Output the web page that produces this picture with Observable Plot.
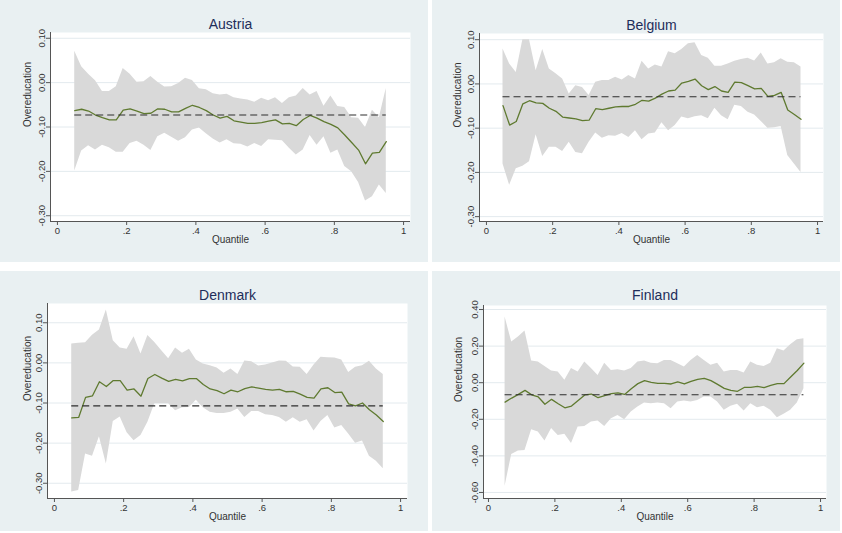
<!DOCTYPE html>
<html>
<head>
<meta charset="utf-8">
<script src="https://cdn.jsdelivr.net/npm/d3@7"></script>
<script src="https://cdn.jsdelivr.net/npm/@observablehq/plot@0.6"></script>
<style>
  body { margin: 0; background: #fff; font-family: "Liberation Sans", Arial, sans-serif; }
  #chart { position: relative; width: 842px; height: 533px; overflow: hidden; background: #fff; }
  .panel { position: absolute; background: #e9f0f2; }
  .panel svg { display: block; }
</style>
</head>
<body>
<div id="chart"></div>
<script>
// Quantiles at which the overeducation effect is estimated
const quantiles = [0.05,0.07,0.09,0.11,0.13,0.15,0.17,0.19,0.21,0.23,0.25,0.27,0.29,0.31,0.33,0.35,0.37,0.39,0.41,0.43,0.45,0.47,0.49,0.51,0.53,0.55,0.57,0.59,0.61,0.63,0.65,0.67,0.69,0.71,0.73,0.75,0.77,0.79,0.81,0.83,0.85,0.87,0.89,0.91,0.93,0.95];

const xTicks = [0, 0.2, 0.4, 0.6, 0.8, 1];

// Austria
const austriaEst = [-0.063,-0.060,-0.064,-0.073,-0.079,-0.084,-0.084,-0.062,-0.059,-0.064,
  -0.070,-0.069,-0.059,-0.060,-0.066,-0.066,-0.058,-0.051,-0.056,-0.063,
  -0.073,-0.080,-0.076,-0.086,-0.089,-0.092,-0.092,-0.090,-0.087,-0.084,
  -0.093,-0.092,-0.097,-0.083,-0.074,-0.080,-0.088,-0.094,-0.102,-0.118,
  -0.135,-0.152,-0.183,-0.159,-0.157,-0.133];
const austriaHi = [0.071,0.036,0.019,0.004,-0.020,-0.020,-0.009,0.032,0.019,0.001,
  0.002,0.014,0.001,-0.010,-0.009,-0.002,0.010,0.005,-0.014,-0.016,
  -0.025,-0.028,-0.026,-0.034,-0.037,-0.039,-0.044,-0.035,-0.041,-0.034,
  -0.047,-0.034,-0.030,-0.013,-0.028,-0.020,-0.053,-0.030,-0.054,-0.056,
  -0.079,-0.080,-0.101,-0.062,-0.079,-0.013];
const austriaLo = [-0.199,-0.154,-0.142,-0.152,-0.141,-0.147,-0.157,-0.157,-0.137,-0.132,
  -0.141,-0.153,-0.122,-0.114,-0.123,-0.132,-0.124,-0.107,-0.102,-0.115,
  -0.127,-0.136,-0.129,-0.138,-0.139,-0.145,-0.137,-0.144,-0.129,-0.130,
  -0.131,-0.148,-0.163,-0.152,-0.119,-0.141,-0.122,-0.159,-0.152,-0.189,
  -0.201,-0.225,-0.267,-0.257,-0.231,-0.250];
const austriaMean = -0.073;

// Belgium
const belgiumEst = [-0.049,-0.093,-0.085,-0.045,-0.038,-0.043,-0.044,-0.055,-0.062,-0.075,
  -0.077,-0.079,-0.083,-0.082,-0.056,-0.058,-0.055,-0.052,-0.051,-0.051,
  -0.046,-0.037,-0.039,-0.032,-0.023,-0.016,-0.014,0.002,0.006,0.011,
  -0.004,-0.013,-0.006,-0.016,-0.019,0.004,0.003,-0.004,-0.011,-0.010,
  -0.028,-0.026,-0.019,-0.059,-0.069,-0.080];
const belgiumHi = [0.079,0.045,0.026,0.100,0.100,0.030,0.078,0.034,0.023,0.011,
  -0.023,-0.004,-0.008,-0.026,0.004,0.008,0.008,0.015,0.009,0.019,
  0.011,0.051,0.034,0.043,0.038,0.073,0.068,0.078,0.091,0.093,
  0.064,0.058,0.040,0.040,0.045,0.051,0.055,0.058,0.052,0.070,
  0.045,0.048,0.057,0.049,0.048,0.038];
const belgiumLo = [-0.181,-0.229,-0.192,-0.186,-0.176,-0.115,-0.164,-0.143,-0.143,-0.153,
  -0.132,-0.155,-0.158,-0.132,-0.111,-0.123,-0.117,-0.118,-0.112,-0.121,
  -0.106,-0.126,-0.113,-0.111,-0.088,-0.106,-0.094,-0.075,-0.079,-0.074,
  -0.072,-0.079,-0.055,-0.072,-0.081,-0.048,-0.051,-0.064,-0.070,-0.085,
  -0.100,-0.099,-0.096,-0.162,-0.181,-0.200];
const belgiumMean = -0.029;

// Denmark
const denmarkEst = [-0.137,-0.136,-0.086,-0.082,-0.047,-0.059,-0.044,-0.044,-0.068,-0.065,
  -0.083,-0.039,-0.029,-0.038,-0.046,-0.041,-0.045,-0.039,-0.039,-0.054,
  -0.065,-0.069,-0.077,-0.068,-0.072,-0.064,-0.060,-0.063,-0.066,-0.068,
  -0.066,-0.072,-0.071,-0.078,-0.086,-0.088,-0.065,-0.062,-0.074,-0.073,
  -0.102,-0.107,-0.100,-0.117,-0.130,-0.146];
const denmarkHi = [0.047,0.049,0.050,0.069,0.082,0.132,0.055,0.037,0.034,0.065,
  0.022,0.068,0.051,0.030,0.010,0.037,0.024,0.034,0.007,-0.003,
  -0.007,-0.013,-0.026,-0.015,-0.029,0.005,0.003,-0.008,-0.005,0.000,
  0.005,0.004,-0.010,-0.011,-0.029,-0.005,0.014,0.013,0.012,0.007,
  -0.024,-0.011,-0.007,0.004,-0.015,-0.029];
const denmarkLo = [-0.322,-0.318,-0.227,-0.233,-0.184,-0.252,-0.146,-0.135,-0.174,-0.194,
  -0.181,-0.148,-0.102,-0.102,-0.102,-0.119,-0.112,-0.111,-0.093,-0.112,
  -0.123,-0.126,-0.126,-0.123,-0.115,-0.136,-0.121,-0.121,-0.129,-0.131,
  -0.136,-0.148,-0.137,-0.148,-0.142,-0.170,-0.146,-0.131,-0.162,-0.156,
  -0.177,-0.200,-0.195,-0.233,-0.245,-0.264];
const denmarkMean = -0.107;

// Finland
const finlandEst = [-0.106,-0.084,-0.064,-0.042,-0.066,-0.078,-0.118,-0.091,-0.115,-0.137,
  -0.128,-0.097,-0.067,-0.062,-0.082,-0.071,-0.060,-0.056,-0.064,-0.033,
  -0.005,0.011,0.002,-0.004,-0.004,-0.007,0.004,-0.007,0.007,0.018,
  0.024,0.011,-0.009,-0.031,-0.042,-0.047,-0.026,-0.026,-0.020,-0.027,
  -0.015,-0.005,-0.005,0.031,0.067,0.107];
const finlandHi = [0.359,0.222,0.250,0.282,0.118,0.113,0.089,0.064,0.058,0.013,
  0.077,0.058,0.113,0.077,0.040,0.107,0.067,0.071,0.064,0.077,
  0.113,0.118,0.107,0.104,0.122,0.122,0.104,0.086,0.122,0.149,
  0.122,0.095,0.107,0.058,0.067,0.067,0.053,0.113,0.095,0.089,
  0.107,0.186,0.173,0.208,0.235,0.240];
const finlandLo = [-0.566,-0.392,-0.373,-0.370,-0.257,-0.270,-0.319,-0.251,-0.288,-0.282,
  -0.333,-0.242,-0.239,-0.215,-0.209,-0.239,-0.197,-0.179,-0.202,-0.160,
  -0.133,-0.111,-0.115,-0.111,-0.115,-0.142,-0.106,-0.100,-0.106,-0.097,
  -0.078,-0.078,-0.106,-0.151,-0.129,-0.118,-0.155,-0.115,-0.137,-0.129,
  -0.151,-0.191,-0.173,-0.151,-0.111,-0.033];
const finlandMean = -0.066;

const smallTicks = [-0.3, -0.2, -0.1, 0, 0.1];
const finlandTicks = [-0.6, -0.4, -0.2, 0, 0.2, 0.4];

// Panel layout (pixels) and scale extents
const panels = [
  { name: "Austria", est: austriaEst, lo: austriaLo, hi: austriaHi, mean: austriaMean, yTicks: smallTicks,
    left: 0, top: 0, width: 428, height: 262, mt: 32, mr: 18, mb: 41, ml: 50,
    xDomain: [-0.02, 1.02], yDomain: [-0.313, 0.113], yLabelDx: -23, titleDy: -13 },
  { name: "Belgium", est: belgiumEst, lo: belgiumLo, hi: belgiumHi, mean: belgiumMean, yTicks: smallTicks,
    left: 432, top: 0, width: 408, height: 262, mt: 33, mr: 17, mb: 41, ml: 47,
    xDomain: [-0.021, 1.018], yDomain: [-0.311, 0.114], yLabelDx: -22, titleDy: -13 },
  { name: "Denmark", est: denmarkEst, lo: denmarkLo, hi: denmarkHi, mean: denmarkMean, yTicks: smallTicks,
    left: 0, top: 271, width: 428, height: 260, mt: 32, mr: 21, mb: 33, ml: 47,
    xDomain: [-0.02, 1.02], yDomain: [-0.338, 0.148], yLabelDx: -20, titleDy: -13 },
  { name: "Finland", est: finlandEst, lo: finlandLo, hi: finlandHi, mean: finlandMean, yTicks: finlandTicks,
    left: 432, top: 271, width: 408, height: 260, mt: 34, mr: 14, mb: 33, ml: 51,
    xDomain: [-0.015, 1.018], yDomain: [-0.633, 0.422], yLabelDx: -25, titleDy: -15 }
];

const fmtY = d => d.toFixed(2);
const fmtX = d => (d === 0 ? "0" : d === 1 ? "1" : String(d).replace(/^0/, ""));
const font = "'Liberation Sans', Arial, sans-serif";

const chart = document.getElementById("chart");

for (const p of panels) {
  const rows = quantiles.map((q, i) => ({ q, est: p.est[i], lo: p.lo[i], hi: p.hi[i] }));
  const svg = Plot.plot({
    width: p.width,
    height: p.height,
    marginTop: p.mt,
    marginRight: p.mr,
    marginBottom: p.mb,
    marginLeft: p.ml,
    style: { background: "transparent", fontFamily: font, fontSize: "9.5px", color: "#333" },
    x: { domain: p.xDomain },
    y: { domain: p.yDomain },
    marks: [
      Plot.frame({ fill: "#fff", stroke: null }),
      Plot.gridY(p.yTicks, { stroke: "#e3eaee", strokeOpacity: 1, strokeWidth: 1 }),
      Plot.areaY(rows, { x: "q", y1: "lo", y2: "hi", fill: "#d9d9d9", clip: true }),
      Plot.line(rows, { x: "q", y: "est", stroke: "#5f7a30", strokeWidth: 1.3 }),
      Plot.ruleY([p.mean], { x1: quantiles[0], x2: quantiles[quantiles.length - 1], stroke: "#2e2e2e", strokeWidth: 1.2, strokeDasharray: "7,4" }),
      // axis lines along the left and bottom edges of the plot region
      Plot.ruleX([p.xDomain[0]], { stroke: "#555", strokeWidth: 1 }),
      Plot.ruleY([p.yDomain[0]], { stroke: "#555", strokeWidth: 1 }),
      // y ticks with vertical labels
      Plot.axisY(p.yTicks, { tickFormat: () => "", tickSize: 4, label: null, stroke: "#555" }),
      Plot.text(p.yTicks, { y: d => d, text: fmtY, frameAnchor: "left", dx: -6, rotate: -90,
        textAnchor: "middle", lineAnchor: "bottom", fontSize: 9.5, fill: "#333" }),
      Plot.axisX(xTicks, { tickFormat: fmtX, tickSize: 4, tickPadding: 2, label: null, stroke: "#555", fill: "#333" }),
      Plot.text([p.name], { frameAnchor: "top", dy: p.titleDy, fontSize: 14, fill: "#1e2d5a" }),
      Plot.text(["Overeducation"], { frameAnchor: "left", dx: p.yLabelDx, rotate: -90, fontSize: 10, fill: "#333" }),
      Plot.text(["Quantile"], { frameAnchor: "bottom", dy: 21, fontSize: 10, fill: "#333" })
    ]
  });
  const div = document.createElement("div");
  div.className = "panel";
  div.style.left = p.left + "px";
  div.style.top = p.top + "px";
  div.style.width = p.width + "px";
  div.style.height = p.height + "px";
  div.appendChild(svg);
  chart.appendChild(div);
}
</script>
</body>
</html>
